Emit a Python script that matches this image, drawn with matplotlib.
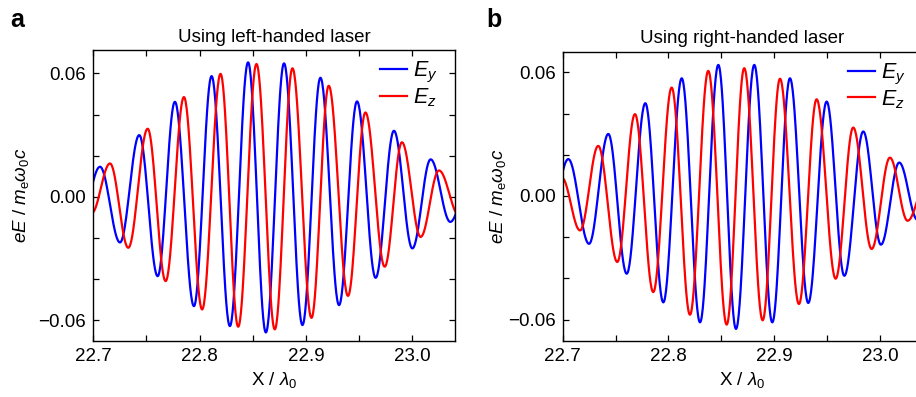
import numpy as np
import matplotlib
matplotlib.use('Agg')
import matplotlib.pyplot as plt
from matplotlib.ticker import MultipleLocator, FuncFormatter

plt.rcParams['font.family'] = ['Liberation Sans', 'DejaVu Sans']
plt.rcParams['mathtext.fontset'] = 'custom'
plt.rcParams['mathtext.rm'] = 'Liberation Sans'
plt.rcParams['mathtext.it'] = 'Liberation Sans:italic'
plt.rcParams['mathtext.bf'] = 'Liberation Sans:bold'

# ---- data: extrema (position X/lambda0, field value) ----
# Panel a : left-handed laser
a_ey_x = [22.6890, 22.7063, 22.7251, 22.7432, 22.7605, 22.7767, 22.7946, 22.8112,
          22.8284, 22.8455, 22.8622, 22.8793, 22.8966, 22.9135, 22.9310, 22.9479,
          22.9654, 22.9826, 22.9999, 23.0171, 23.0356, 23.0528]
a_ey_v = [-0.0090, 0.0146, -0.0222, 0.0300, -0.0386, 0.0462, -0.0532, 0.0587,
          -0.0629, 0.0654, -0.0660, 0.0649, -0.0624, 0.0579, -0.0527, 0.0464,
          -0.0394, 0.0321, -0.0251, 0.0182, -0.0122, 0.0070]
a_ez_x = [22.6984, 22.7157, 22.7329, 22.7511, 22.7680, 22.7852, 22.8023, 22.8196,
          22.8362, 22.8534, 22.8706, 22.8872, 22.9051, 22.9213, 22.9394, 22.9558,
          22.9739, 22.9901, 23.0077, 23.0249, 23.0443]
a_ez_v = [-0.0080, 0.0162, -0.0248, 0.0331, -0.0410, 0.0485, -0.0548, 0.0598,
          -0.0632, 0.0646, -0.0645, 0.0625, -0.0589, 0.0540, -0.0482, 0.0410,
          -0.0340, 0.0265, -0.0195, 0.0128, -0.0095]

# Panel b : right-handed laser
b_ey_x = [22.6880, 22.7053, 22.7249, 22.7431, 22.7605, 22.7781, 22.7951, 22.8125,
          22.8298, 22.8471, 22.8638, 22.8811, 22.8981, 22.9148, 22.9321, 22.9495,
          22.9662, 22.9841, 23.0008, 23.0181, 23.0353, 23.0528]
b_ey_v = [-0.0110, 0.0179, -0.0232, 0.0301, -0.0377, 0.0450, -0.0516, 0.0571,
          -0.0613, 0.0636, -0.0645, 0.0636, -0.0613, 0.0571, -0.0519, 0.0458,
          -0.0387, 0.0313, -0.0236, 0.0162, -0.0115, 0.0060]
b_ez_x = [22.6814, 22.6991, 22.7164, 22.7336, 22.7516, 22.7683, 22.7856, 22.8030,
          22.8203, 22.8376, 22.8550, 22.8716, 22.8890, 22.9054, 22.9233, 22.9400,
          22.9580, 22.9746, 22.9920, 23.0093, 23.0260, 23.0433]
b_ez_v = [-0.0060, 0.0089, -0.0167, 0.0243, -0.0320, 0.0397, -0.0466, 0.0526,
          -0.0576, 0.0607, -0.0624, 0.0620, -0.0603, 0.0569, -0.0524, 0.0469,
          -0.0401, 0.0332, -0.0257, 0.0186, -0.0120, 0.0060]

titles = ['Using left-handed laser', 'Using right-handed laser']
panel_letters = ['a', 'b']
series_labels = [r'$E_y$', r'$E_z$']
x_ticks = [22.7, 22.8, 22.9, 23.0]
y_ticks = [-0.06, 0.00, 0.06]


def smooth_through_extrema(xs, vs, n=40):
    """Half-cosine segments joining successive extrema (zero slope at each)."""
    X, Y = [], []
    for i in range(len(xs) - 1):
        t = np.linspace(0, 1, n, endpoint=False)
        X.append(xs[i] + (xs[i + 1] - xs[i]) * t)
        Y.append(vs[i] + (vs[i + 1] - vs[i]) * (1 - np.cos(np.pi * t)) / 2)
    X.append([xs[-1]])
    Y.append([vs[-1]])
    return np.concatenate(X), np.concatenate(Y)


def yfmt(v, pos):
    s = '%.2f' % abs(v)
    return ('\u2212' + s) if v < -1e-9 else s


W, H = 916, 397
fig = plt.figure(figsize=(W / 100, H / 100), dpi=100)

ax_a = fig.add_axes([93.3 / W, 1 - 340.7 / H, 361.7 / W, 290.7 / H])
ax_b = fig.add_axes([562.7 / W, 1 - 340.7 / H, 359.7 / W, 289.0 / H])

panels = [
    (ax_a, (a_ey_x, a_ey_v), (a_ez_x, a_ez_v), (-0.0700, 0.0714), -0.200),
    (ax_b, (b_ey_x, b_ey_v), (b_ez_x, b_ez_v), (-0.0702, 0.0700), -0.180),
]

FS = 13.5
for k, (ax, ey, ez, ylim, ylab_x) in enumerate(panels):
    xe, ye = smooth_through_extrema(*ey)
    xz, yz = smooth_through_extrema(*ez)
    ax.plot(xe, ye, color='#0000ff', lw=1.6, label=series_labels[0])
    ax.plot(xz, yz, color='#ff0000', lw=1.6, label=series_labels[1])
    ax.set_xlim(22.7, 23.04)
    ax.set_ylim(*ylim)
    ax.set_xticks(x_ticks)
    ax.set_yticks(y_ticks)
    ax.xaxis.set_minor_locator(MultipleLocator(0.05))
    ax.yaxis.set_minor_locator(MultipleLocator(0.02))
    ax.xaxis.set_major_formatter(FuncFormatter(lambda v, p: '%.1f' % v))
    ax.yaxis.set_major_formatter(FuncFormatter(yfmt))
    ax.tick_params(which='both', direction='in', top=True, right=True,
                   length=4, width=0.9, labelsize=FS, pad=5)
    for s in ax.spines.values():
        s.set_linewidth(1.0)
    ax.set_title(titles[k], fontsize=FS, pad=6)
    ax.set_xlabel(r'X / $\lambda_0$', fontsize=FS, labelpad=4)
    ax.set_ylabel(r'$eE$ / $m_{\mathrm{e}}\omega_0c$', fontsize=FS)
    ax.yaxis.label.set_va('center')
    ax.yaxis.set_label_coords(ylab_x, 0.5)
    ax.legend(loc='upper left', frameon=False, fontsize=15.5,
              handlelength=1.25, handletextpad=0.3, labelspacing=0.05,
              borderaxespad=0.0, borderpad=0.0, bbox_to_anchor=(0.7927, 0.965))

fig.text(10.7 / W, 1 - 26.7 / H, panel_letters[0], fontsize=18, fontweight='bold', va='baseline')
fig.text(486 / W, 1 - 26.7 / H, panel_letters[1], fontsize=18, fontweight='bold', va='baseline')

fig.savefig('out.png', dpi=100)
